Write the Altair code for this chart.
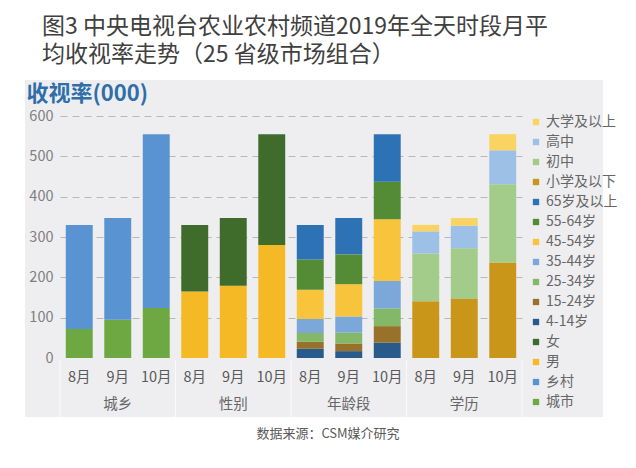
import altair as alt
import pandas as pd

months = ["8月", "9月", "10月"]
groups = ["城乡", "性别", "年龄段", "学历"]

# values (thousands)
urban = [72, 95, 124]
rural = [258, 252, 431]
male = [165, 179, 280]
female = [165, 168, 275]
age_4_14 = [23, 17, 38]
age_15_24 = [17, 19, 41]
age_25_34 = [22, 27, 44]
age_35_44 = [35, 40, 68]
age_45_54 = [72, 80, 153]
age_55_64 = [75, 74, 93]
age_65 = [86, 90, 118]
edu_primary = [141, 146, 237]
edu_junior = [118, 126, 194]
edu_senior = [55, 56, 84]
edu_college = [16, 19, 40]

# stacking order, bottom to top
series = [
    ("城乡", "城市", urban),
    ("城乡", "乡村", rural),
    ("性别", "男", male),
    ("性别", "女", female),
    ("年龄段", "4-14岁", age_4_14),
    ("年龄段", "15-24岁", age_15_24),
    ("年龄段", "25-34岁", age_25_34),
    ("年龄段", "35-44岁", age_35_44),
    ("年龄段", "45-54岁", age_45_54),
    ("年龄段", "55-64岁", age_55_64),
    ("年龄段", "65岁及以上", age_65),
    ("学历", "小学及以下", edu_primary),
    ("学历", "初中", edu_junior),
    ("学历", "高中", edu_senior),
    ("学历", "大学及以上", edu_college),
]

series_colors = {
    "城市": "#6DA843",
    "乡村": "#5A93D1",
    "男": "#F5B926",
    "女": "#3F6B2B",
    "4-14岁": "#285A8C",
    "15-24岁": "#98712A",
    "25-34岁": "#82B867",
    "35-44岁": "#7BA7D9",
    "45-54岁": "#F8C43B",
    "55-64岁": "#548C35",
    "65岁及以上": "#2E72B6",
    "小学及以下": "#C9961A",
    "初中": "#A3CC8A",
    "高中": "#9DC1E6",
    "大学及以上": "#FAD463",
}
legend_order = [s[1] for s in series][::-1]
legend_colors = [series_colors[n] for n in legend_order]

yticks = [0, 100, 200, 300, 400, 500, 600]

keys = [f"{g}-{m}" for g in groups for m in months]

rows = []
for rank, (g, name, vals) in enumerate(series):
    for m, v in zip(months, vals):
        rows.append({"key": f"{g}-{m}", "series": name, "value": v, "rank": rank})
df = pd.DataFrame(rows)

W, H = 462, 242
FONT = "Noto Sans CJK SC"
PANEL = "#EEEEF1"

xscale = alt.Scale(domain=keys, paddingInner=0.3, paddingOuter=0.15)
yscale = alt.Scale(domain=[0, 600])

one = pd.DataFrame({"a": [0]})


def white_band(x1, x2, y1, y2):
    return alt.Chart(one).mark_rect(color="white").encode(
        x=alt.value(x1), x2=alt.value(x2), y=alt.value(y1), y2=alt.value(y2)
    )


# white page outside the grey chart panel
frame_top = white_band(-52, 568, -108, -36)
frame_bottom = white_band(-52, 568, 301, 344)
frame_left = white_band(-52, -35, -36, 301)
frame_right = white_band(543, 568, -36, 301)

bars = alt.Chart(df).mark_bar().encode(
    x=alt.X(
        "key:N",
        sort=keys,
        scale=xscale,
        axis=alt.Axis(
            title=None,
            labelExpr="split(datum.value, '-')[1]",
            labelAngle=0,
            labelFontSize=14.5,
            labelColor="#595959",
            labelPadding=12,
            domain=False,
            ticks=False,
            grid=False,
        ),
    ),
    y=alt.Y(
        "value:Q",
        stack="zero",
        scale=yscale,
        axis=alt.Axis(
            values=yticks,
            title="收视率(000)",
            titleAngle=0,
            titleX=-34,
            titleY=-16,
            titleAlign="left",
            titleBaseline="alphabetic",
            titleFontSize=22,
            titleFontWeight="bold",
            titleColor="#2F6EA9",
            labelFontSize=14.5,
            labelColor="#7F7F7F",
            labelPadding=7,
            domain=False,
            ticks=False,
            grid=True,
            gridColor="#B8B8B8",
            gridDash=[7, 5],
            gridWidth=1,
            gridOpacity={"condition": {"test": "datum.value === 0", "value": 0}, "value": 1},
        ),
    ),
    color=alt.Color(
        "series:N",
        scale=alt.Scale(domain=legend_order, range=legend_colors),
        legend=alt.Legend(
            title=None,
            orient="none",
            legendX=469,
            legendY=-1,
            symbolType="square",
            symbolSize=40,
            symbolStrokeWidth=0,
            labelFontSize=14,
            labelColor="#666666",
            labelOffset=3,
            rowPadding=6,
            padding=0,
            zindex=2,
        ),
    ),
    order=alt.Order("rank:Q"),
)

group_df = pd.DataFrame({"key": [f"{g}-9月" for g in groups], "label": groups})
group_text = alt.Chart(group_df).mark_text(
    fontSize=14.5, color="#666666", baseline="middle"
).encode(x=alt.X("key:N", sort=keys, scale=xscale), y=alt.value(289), text="label:N")

sep_left = alt.Chart(pd.DataFrame({"key": [f"{g}-8月" for g in groups]})).mark_rule(
    color="#FAFAFC", strokeWidth=1, xOffset=-19.25
).encode(x=alt.X("key:N", sort=keys, scale=xscale), y=alt.value(244), y2=alt.value(301))

sep_right = alt.Chart(pd.DataFrame({"key": ["学历-10月"]})).mark_rule(
    color="#FAFAFC", strokeWidth=1, xOffset=19.25
).encode(x=alt.X("key:N", sort=keys, scale=xscale), y=alt.value(244), y2=alt.value(301))

source = alt.Chart(pd.DataFrame({"t": ["数据来源：CSM媒介研究"]})).mark_text(
    fontSize=13, color="#595959", baseline="middle", align="center"
).encode(x=alt.value(268), y=alt.value(318), text="t:N")

chart = (
    alt.layer(
        frame_top, frame_bottom, frame_left, frame_right,
        bars, group_text, sep_left, sep_right, source,
    )
    .properties(
        width=W,
        height=H,
        padding={"left": 52, "top": 108, "right": 106, "bottom": 102},
        autosize=alt.AutoSizeParams(type="none"),
        title=alt.TitleParams(
            ["图3 中央电视台农业农村频道2019年全天时段月平", "均收视率走势（25 省级市场组合）"],
            anchor="start",
            frame="group",
            dx=-18,
            dy=59,
            offset=0,
            fontSize=23,
            fontWeight="normal",
            color="#404040",
            lineHeight=28,
            font=FONT,
            zindex=3,
        ),
    )
    .configure(font=FONT, background=PANEL)
    .configure_view(stroke=None)
)

chart.save("out.html", embed_options={"renderer": "svg", "actions": False})
